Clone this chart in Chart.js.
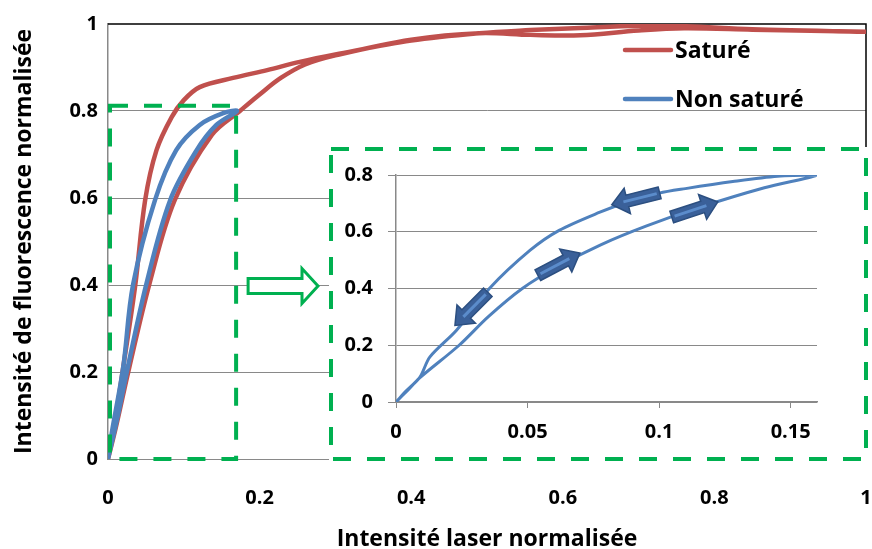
<!DOCTYPE html>
<html>
<head>
<meta charset="utf-8">
<script src="https://cdn.jsdelivr.net/npm/chart.js@4/dist/chart.umd.min.js"></script>
<style>
  html, body { margin: 0; padding: 0; background: #fff; overflow: hidden; }
  #wrap { position: relative; width: 872px; height: 549px; }
  #mainChart { position: absolute; left: 0; top: 0; }
  #zoomChart { position: absolute; left: 329px; top: 147px; }
</style>
</head>
<body>
<div id="wrap">
  <canvas id="mainChart" width="872" height="549"></canvas>
  <canvas id="zoomChart" width="539" height="313"></canvas>
</div>
<script>
// Saturé : goes up along the knee, comes back along the lower branch
var satureX = [0, 0.007, 0.02, 0.036, 0.049, 0.064, 0.084, 0.10, 0.121, 0.165, 0.21, 0.253, 0.30, 0.40, 0.49, 0.557, 0.623, 0.70, 0.76, 0.85, 1.0,
  0.85, 0.76, 0.70, 0.623, 0.557, 0.49, 0.40, 0.30, 0.26, 0.228, 0.2, 0.174, 0.137, 0.088, 0.055, 0.028, 0.01, 0]
var satureY = [0, 0.06, 0.21, 0.40, 0.595, 0.71, 0.786, 0.825, 0.855, 0.876, 0.894, 0.913, 0.93, 0.962, 0.979, 0.986, 0.991, 0.996, 0.995, 0.988, 0.982,
  0.987, 0.99, 0.985, 0.974, 0.975, 0.979, 0.964, 0.928, 0.907, 0.876, 0.838, 0.80, 0.745, 0.595, 0.405, 0.21, 0.07, 0]

// Non saturé (main chart)
var nonSatureX = [0, 0.013, 0.026, 0.051, 0.082, 0.117, 0.143, 0.17, 0.152, 0.121, 0.09, 0.062, 0.033, 0.02, 0.005, 0]
var nonSatureY = [0, 0.1, 0.21, 0.405, 0.595, 0.71, 0.768, 0.80, 0.795, 0.768, 0.71, 0.595, 0.40, 0.21, 0.06, 0]

// Non saturé, zoomed (inset)
var zoomX = [0, 0.0045, 0.009, 0.024, 0.035, 0.048, 0.062, 0.078, 0.095, 0.115, 0.14, 0.16,
  0.145, 0.128, 0.11, 0.1, 0.088, 0.0775, 0.062, 0.051, 0.0355, 0.023, 0.0129, 0.0091, 0.004, 0]
var zoomY = [0, 0.042, 0.085, 0.2, 0.3, 0.4, 0.48, 0.555, 0.62, 0.685, 0.755, 0.8,
  0.796, 0.777, 0.752, 0.736, 0.705, 0.669, 0.605, 0.535, 0.40, 0.253, 0.159, 0.088, 0.04, 0]

// direction arrows in the inset: tail x, tail y, tip x, tip y
var zoomArrows = [
  [0.1002, 0.737, 0.0820, 0.695],
  [0.1048, 0.652, 0.1223, 0.705],
  [0.0539, 0.447, 0.0699, 0.525],
  [0.0349, 0.387, 0.0224, 0.270]
]

// zoomed region of the main chart
var zoomBoxX = 0.169
var zoomBoxY = 0.812

var seriesNames = ['Saturé', 'Non saturé']
var xTitle = 'Intensité laser normalisée'
var yTitle = 'Intensité de fluorescence normalisée'

const RED = '#C0504D'
const BLUE = '#4F81BD'
const GREEN = '#00B050'
const GRID = '#898989'
const FONT = '"Open Sans", "Noto Sans", sans-serif'

Chart.defaults.font.family = FONT
Chart.defaults.color = '#000'

function toPoints(xs, ys) {
  return xs.map((x, i) => ({ x: x, y: ys[i] }))
}

function dashedRect(ctx, x, y, w, h) {
  ctx.save()
  ctx.strokeStyle = GREEN
  ctx.lineWidth = 4
  ctx.setLineDash([18, 16])
  ctx.strokeRect(x, y, w, h)
  ctx.restore()
}

function blockArrow(ctx, x1, y1, x2, y2) {
  const dx = x2 - x1, dy = y2 - y1
  const len = Math.hypot(dx, dy)
  const ux = dx / len, uy = dy / len
  const nx = -uy, ny = ux
  const head = 16, half = 6, wing = 13
  const bx = x2 - ux * head, by = y2 - uy * head
  ctx.save()
  ctx.beginPath()
  ctx.moveTo(x1 + nx * half, y1 + ny * half)
  ctx.lineTo(bx + nx * half, by + ny * half)
  ctx.lineTo(bx + nx * wing, by + ny * wing)
  ctx.lineTo(x2, y2)
  ctx.lineTo(bx - nx * wing, by - ny * wing)
  ctx.lineTo(bx - nx * half, by - ny * half)
  ctx.lineTo(x1 - nx * half, y1 - ny * half)
  ctx.closePath()
  ctx.fillStyle = '#3A6099'
  ctx.fill()
  ctx.strokeStyle = '#2C4F80'
  ctx.lineWidth = 1.5
  ctx.stroke()
  ctx.beginPath()
  ctx.moveTo(x1 + ux * 3, y1 + uy * 3)
  ctx.lineTo(bx + ux * 4, by + uy * 4)
  ctx.strokeStyle = '#5B8CCB'
  ctx.lineWidth = 3
  ctx.stroke()
  ctx.restore()
}

// plot frame, zoom boxes, hollow arrow and legend of the main chart
const mainDecor = {
  id: 'mainDecor',
  beforeDatasetsDraw(chart) {
    const ctx = chart.ctx, a = chart.chartArea
    ctx.save()
    ctx.strokeStyle = '#000'
    ctx.lineWidth = 1.5
    ctx.beginPath()
    ctx.moveTo(a.left, a.top)
    ctx.lineTo(a.right, a.top)
    ctx.lineTo(a.right, a.bottom)
    ctx.stroke()
    ctx.restore()
  },
  afterDraw(chart) {
    const ctx = chart.ctx
    const xs = chart.scales.x, ys = chart.scales.y
    // zoomed area
    const bx = xs.getPixelForValue(zoomBoxX)
    const by = ys.getPixelForValue(zoomBoxY)
    dashedRect(ctx, xs.left + 2, by, bx - xs.left - 2, ys.bottom - by)

    // inset box
    ctx.save()
    ctx.fillStyle = '#fff'
    ctx.fillRect(329, 147, 539, 313)
    ctx.restore()
    dashedRect(ctx, 331, 149, 535, 310)

    // hollow arrow
    const cy = ys.getPixelForValue(0.4) + 1
    const x0 = bx + 12, x2 = 318, xh = 302
    ctx.save()
    ctx.beginPath()
    ctx.moveTo(x0, cy - 7.5)
    ctx.lineTo(xh, cy - 7.5)
    ctx.lineTo(xh, cy - 17.5)
    ctx.lineTo(x2, cy)
    ctx.lineTo(xh, cy + 17.5)
    ctx.lineTo(xh, cy + 7.5)
    ctx.lineTo(x0, cy + 7.5)
    ctx.closePath()
    ctx.fillStyle = '#fff'
    ctx.fill()
    ctx.strokeStyle = GREEN
    ctx.lineWidth = 3
    ctx.stroke()
    ctx.restore()

    // legend
    ctx.save()
    ctx.font = 'bold 23px ' + FONT
    ctx.textBaseline = 'middle'
    chart.data.datasets.forEach((ds, i) => {
      const ly = 50 + i * 49
      ctx.strokeStyle = ds.borderColor
      ctx.lineWidth = 4.5
      ctx.lineCap = 'round'
      ctx.beginPath()
      ctx.moveTo(625, ly)
      ctx.lineTo(671, ly)
      ctx.stroke()
      ctx.fillStyle = '#000'
      ctx.fillText(ds.label, 675, ly + 1)
    })
    ctx.restore()
  }
}

new Chart(document.getElementById('mainChart'), {
  type: 'scatter',
  data: {
    datasets: [{
      label: seriesNames[0],
      data: toPoints(satureX, satureY),
      showLine: true,
      borderColor: RED,
      borderWidth: 4.5,
      tension: 0.35,
      pointRadius: 0,
      order: 1
    }, {
      label: seriesNames[1],
      data: toPoints(nonSatureX, nonSatureY),
      showLine: true,
      borderColor: BLUE,
      borderWidth: 4.5,
      tension: 0.35,
      pointRadius: 0,
      order: 0
    }]
  },
  options: {
    responsive: false,
    animation: false,
    layout: { autoPadding: false, padding: { top: 24, right: 6, left: 0, bottom: 0 } },
    plugins: { legend: { display: false }, tooltip: { enabled: false } },
    scales: {
      x: {
        type: 'linear',
        min: 0,
        max: 1,
        afterFit(scale) { scale.height = 90 },
        ticks: {
          stepSize: 0.2,
          padding: 0,
          font: { size: 20, weight: 'bold' },
          callback: v => String(Number(v.toFixed(2)))
        },
        // transparent tick marks only push the labels down
        grid: { drawOnChartArea: false, drawTicks: true, tickLength: 27, tickColor: 'rgba(0,0,0,0)' },
        border: { color: GRID, width: 1 },
        title: {
          display: true,
          text: xTitle,
          font: { size: 23, weight: 'bold', lineHeight: 0.8 },
          padding: { top: 0, bottom: 0 }
        }
      },
      y: {
        min: 0,
        max: 1,
        afterFit(scale) { scale.width = 108 },
        ticks: {
          stepSize: 0.2,
          padding: 10,
          font: { size: 20, weight: 'bold' },
          callback: v => String(Number(v.toFixed(2)))
        },
        grid: {
          drawTicks: false,
          color: c => (c.tick && c.tick.value === 1) ? 'rgba(0,0,0,0)' : GRID,
          lineWidth: 1
        },
        border: { color: GRID, width: 1.5 },
        title: {
          display: true,
          text: yTitle,
          font: { size: 23, weight: 'bold', lineHeight: 1 },
          padding: { top: 13, bottom: 0 }
        }
      }
    }
  },
  plugins: [mainDecor]
})

const zoomDecor = {
  id: 'zoomDecor',
  afterDatasetsDraw(chart) {
    const xs = chart.scales.x, ys = chart.scales.y
    zoomArrows.forEach(a => {
      blockArrow(chart.ctx,
        xs.getPixelForValue(a[0]), ys.getPixelForValue(a[1]),
        xs.getPixelForValue(a[2]), ys.getPixelForValue(a[3]))
    })
  }
}

new Chart(document.getElementById('zoomChart'), {
  type: 'scatter',
  data: {
    datasets: [{
      label: seriesNames[1],
      data: toPoints(zoomX, zoomY),
      showLine: true,
      borderColor: BLUE,
      borderWidth: 3,
      tension: 0.3,
      pointRadius: 0
    }]
  },
  options: {
    responsive: false,
    animation: false,
    layout: { autoPadding: false, padding: { top: 28, right: 51, left: 0, bottom: 0 } },
    plugins: { legend: { display: false }, tooltip: { enabled: false } },
    scales: {
      x: {
        type: 'linear',
        min: 0,
        max: 0.16,
        afterFit(scale) { scale.height = 58 },
        ticks: {
          stepSize: 0.05,
          includeBounds: false,
          padding: 12,
          font: { size: 20, weight: 'bold' },
          callback: v => String(Number(v.toFixed(2)))
        },
        grid: { drawOnChartArea: false, drawTicks: true, tickLength: 6, color: GRID },
        border: { color: GRID, width: 1.5 }
      },
      y: {
        min: 0,
        max: 0.8,
        afterFit(scale) { scale.width = 67 },
        ticks: {
          stepSize: 0.2,
          padding: 15,
          font: { size: 20, weight: 'bold' },
          callback: v => String(Number(v.toFixed(2)))
        },
        grid: { drawTicks: true, tickLength: 8, color: GRID, lineWidth: 1 },
        border: { color: GRID, width: 1.5 }
      }
    }
  },
  plugins: [zoomDecor]
})
</script>
</body>
</html>
